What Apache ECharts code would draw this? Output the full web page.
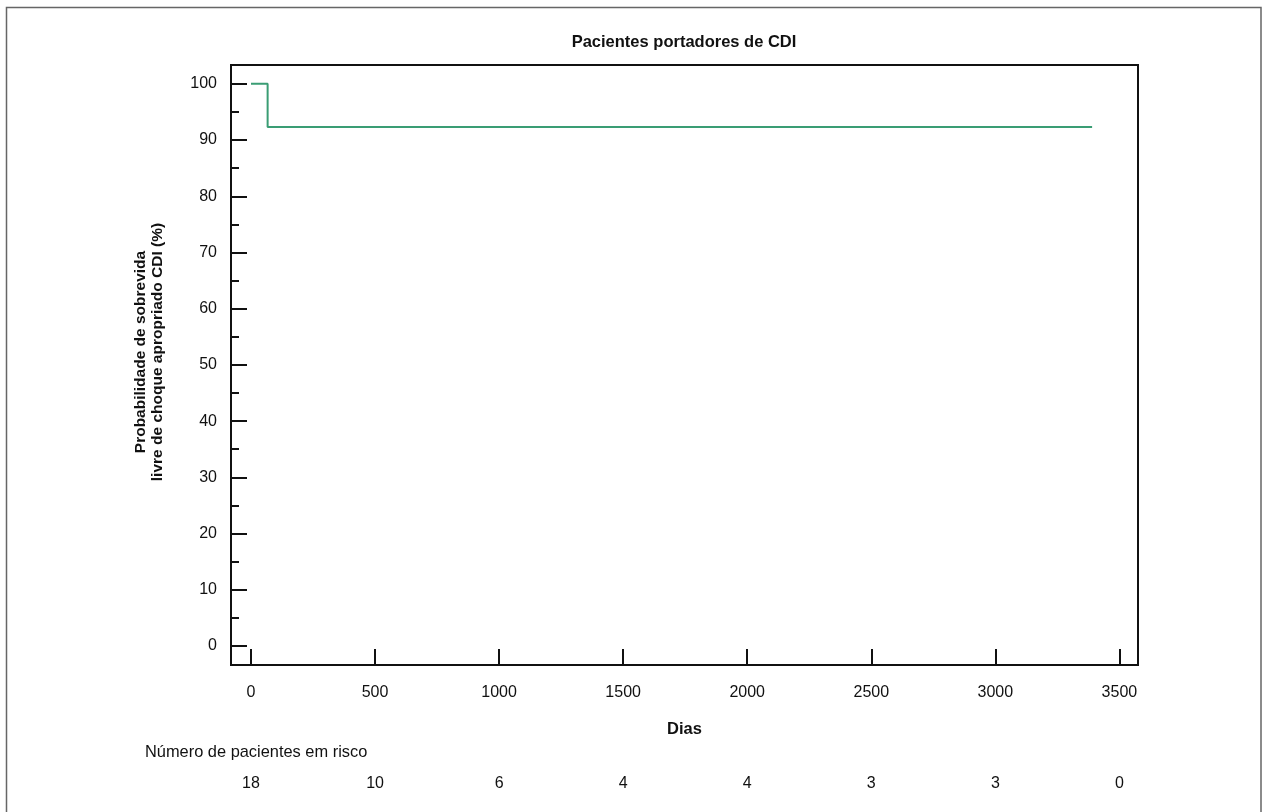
<!DOCTYPE html>
<html><head><meta charset="utf-8">
<script src="https://cdn.jsdelivr.net/npm/echarts@6/dist/echarts.min.js"></script>
<style>html,body{margin:0;padding:0;background:#fff}#c{width:1267px;height:812px}</style>
</head><body><div id="c"></div>
<script>
const days = [0, 67, 3390];
const survival = [100, 92.3, 92.3];
const xTicks = [0, 500, 1000, 1500, 2000, 2500, 3000, 3500];
const atRisk = [18, 10, 6, 4, 4, 3, 3, 0];
const yTicks = [0, 10, 20, 30, 40, 50, 60, 70, 80, 90, 100];
const yMinorTicks = [5, 15, 25, 35, 45, 55, 65, 75, 85, 95];

const FONT = '"Liberation Sans", Arial, sans-serif';
const X_MIN = -80.6, X_MAX = 3575, Y_MIN = -3.38, Y_MAX = 103.35;

const chart = echarts.init(document.getElementById('c'), null, {renderer: 'canvas'});
const riskMap = {};
xTicks.forEach((t, i) => riskMap[t] = atRisk[i]);

chart.setOption({
  animation: false,
  backgroundColor: '#fff',
  textStyle: {fontFamily: FONT},
  graphic: [
    {type: 'rect', shape: {x: 6.5, y: 7.5, width: 1254.5, height: 820}, style: {fill: 'none', stroke: '#666', lineWidth: 1.5}, silent: true},
    {type: 'text', x: 684, y: 42,
      style: {text: 'Pacientes portadores de CDI', textAlign: 'center', textVerticalAlign: 'middle',
        font: 'bold 16.5px ' + FONT, fill: '#111'}},
    {type: 'text', x: 149, y: 352, rotation: Math.PI / 2,
      style: {text: 'Probabilidade de sobrevida\nlivre de choque apropriado CDI (%)', textAlign: 'center', textVerticalAlign: 'middle',
        font: 'bold 15.5px ' + FONT, fill: '#111', lineHeight: 17}},
    {type: 'text', x: 145, y: 752,
      style: {text: 'Número de pacientes em risco', textVerticalAlign: 'middle', font: '16.4px ' + FONT, fill: '#111'}}
  ],
  grid: {left: 231, right: 129, top: 65, bottom: 147, show: true, borderColor: '#111', borderWidth: 2, backgroundColor: 'transparent'},
  xAxis: [{
    type: 'value', min: X_MIN, max: X_MAX, position: 'bottom',
    name: 'Dias', nameLocation: 'middle', nameGap: 56,
    nameTextStyle: {fontFamily: FONT, fontWeight: 'bold', fontSize: 16.5, color: '#111'},
    axisLine: {show: true, onZero: false, lineStyle: {color: '#111', width: 2}},
    axisTick: {show: true, inside: true, length: 16, lineStyle: {color: '#111', width: 2}, customValues: xTicks},
    axisLabel: {show: true, margin: 20, fontFamily: FONT, fontSize: 16, color: '#111', customValues: xTicks,
      formatter: v => String(v)},
    splitLine: {show: false}
  }, {
    type: 'value', min: X_MIN, max: X_MAX, position: 'bottom', offset: 91,
    axisLine: {show: false, onZero: false}, axisTick: {show: false},
    axisLabel: {show: true, margin: 20, fontFamily: FONT, fontSize: 16, color: '#111', customValues: xTicks,
      formatter: v => String(riskMap[v])},
    splitLine: {show: false}
  }],
  yAxis: [{
    type: 'value', min: Y_MIN, max: Y_MAX, position: 'left',
    axisLine: {show: true, onZero: false, lineStyle: {color: '#111', width: 2}},
    axisTick: {show: true, inside: true, length: 16, lineStyle: {color: '#111', width: 2}, customValues: yTicks},
    axisLabel: {show: true, margin: 14, fontFamily: FONT, fontSize: 16, color: '#111', customValues: yTicks},
    splitLine: {show: false}
  }, {
    type: 'value', min: Y_MIN, max: Y_MAX, position: 'left',
    axisLine: {show: false, onZero: false},
    axisTick: {show: true, inside: true, length: 8, lineStyle: {color: '#111', width: 2}, customValues: yMinorTicks},
    axisLabel: {show: false},
    splitLine: {show: false}
  }],
  series: [{
    type: 'line', xAxisIndex: 0, yAxisIndex: 0, step: 'end', showSymbol: false, symbol: 'none',
    data: days.map((d, i) => [d, survival[i]]),
    lineStyle: {color: '#3a9d74', width: 2}
  }]
});
</script></body></html>
